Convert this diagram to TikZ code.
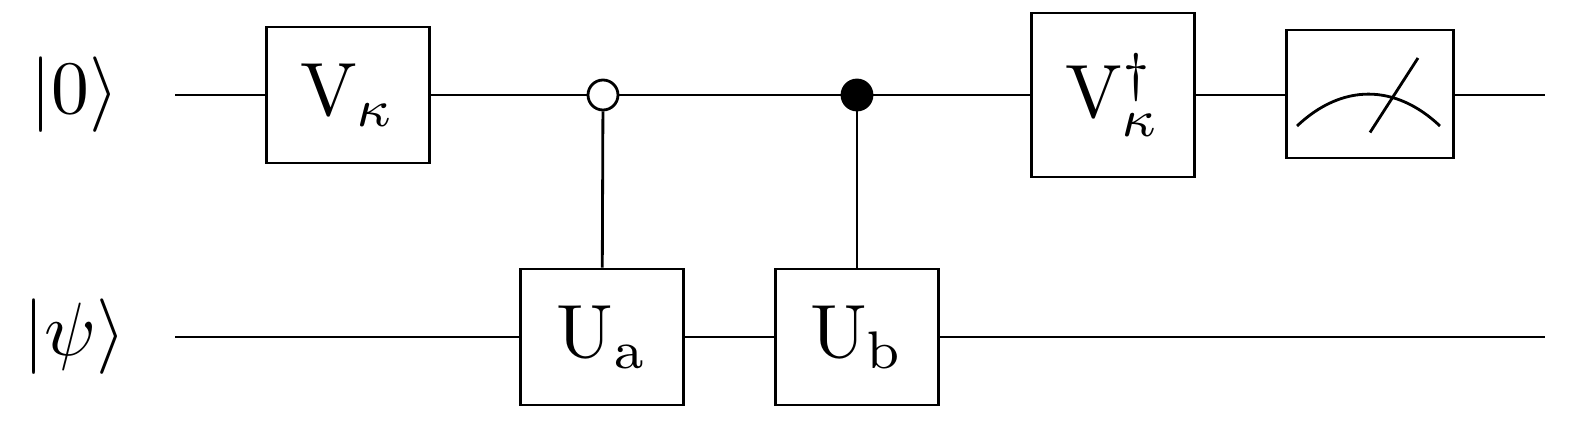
\documentclass[tikz,border=0pt]{standalone}
\usepackage{amsmath}
\usepackage{graphicx}
\usetikzlibrary{positioning}
\newcommand{\bigtxt}[1]{\scalebox{4.3}{#1}}
\begin{document}
\begin{tikzpicture}[x=0.02cm,y=0.02cm,line width=1.6pt,
  gate/.style={draw,fill=white,minimum width=3.25cm,minimum height=2.72cm,inner sep=0pt},
  ctrl/.style={circle,draw,minimum size=0.6cm,inner sep=0pt}]
  \useasboundingbox (0,0) rectangle (1583,443);
  % wires
  \coordinate (t0) at (175,348);
  \coordinate (t1) at (1545,348);
  \coordinate (b0) at (175,106);
  \coordinate (b1) at (1545,106);
  \draw (t0) -- (t1);
  \draw (b0) -- (b1);
  \node (k0) at (75,348) {\bigtxt{$|0\rangle$}};
  \node (kpsi) at (75,106) {\bigtxt{$|\psi\rangle$}};
  % gates
  \node[gate] (vk) at (348,348) {\bigtxt{$\mathrm{V}_{\kappa}$}};
  \node[gate] (ua) at (602,106) {\bigtxt{$\mathrm{U}_{\mathrm{a}}$}};
  \node[gate] (ub) at (857,106) {\bigtxt{$\mathrm{U}_{\mathrm{b}}$}};
  \node[gate,minimum height=3.28cm] (vkd) at (1113,348) {\bigtxt{$\mathrm{V}_{\kappa}^{\dagger}$}};
  \node[gate,minimum width=3.35cm,minimum height=2.56cm] (meas) at (1370,349) {};
  \node[ctrl,fill=white] (c1) at (603,348) {};
  \node[ctrl,fill=black] (c2) at (857,348) {};
  \draw (c1) -- (ua);
  \draw (c2) -- (ub);
  % meter
  \draw ([xshift=-1.46cm,yshift=-0.64cm]meas.center) .. controls +(0.9cm,0.85cm) and +(-0.9cm,0.85cm) .. ([xshift=1.4cm,yshift=-0.64cm]meas.center);
  \draw ([xshift=0cm,yshift=-0.77cm]meas.center) -- ([xshift=0.96cm,yshift=0.72cm]meas.center);
\end{tikzpicture}
\end{document}
